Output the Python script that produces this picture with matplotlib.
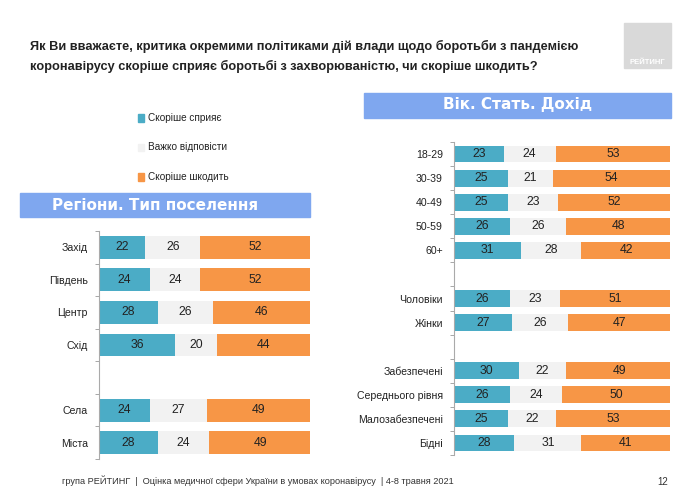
import numpy as np
import matplotlib.pyplot as plt
from matplotlib.patches import Rectangle

plt.rcParams['font.family'] = ['Liberation Sans', 'DejaVu Sans']

series_names = ['Скоріше сприяє', 'Важко відповісти', 'Скоріше шкодить']
colors = ['#4BACC6', '#F2F2F2', '#F79646']

# left panel: regions / settlement type ('' = empty spacer row)
left_cats = ['Захід', 'Південь', 'Центр', 'Схід', '', 'Села', 'Міста']
left_help = [22, 24, 28, 36, None, 24, 28]
left_hard = [26, 24, 26, 20, None, 27, 24]
left_harm = [52, 52, 46, 44, None, 49, 49]

# right panel: age / sex / income
right_cats = ['18-29', '30-39', '40-49', '50-59', '60+', '', 'Чоловіки', 'Жінки', '',
              'Забезпечені', 'Середнього рівня', 'Малозабезпечені', 'Бідні']
right_help = [23, 25, 25, 26, 31, None, 26, 27, None, 30, 26, 25, 28]
right_hard = [24, 21, 23, 26, 28, None, 23, 26, None, 22, 24, 22, 31]
right_harm = [53, 54, 52, 48, 42, None, 51, 47, None, 49, 50, 53, 41]

W, H = 690, 493
fig = plt.figure(figsize=(W / 100, H / 100), dpi=100)


def px(x0, y0, x1, y1):
    return [x0 / W, 1 - y1 / H, (x1 - x0) / W, (y1 - y0) / H]


def stacked(ax, cats, a, b, c):
    n = len(cats)
    y = np.arange(n)
    for i in range(n):
        if a[i] is None:
            continue
        left = 0
        for v, col in zip([a[i], b[i], c[i]], colors):
            ax.barh(y[i], v, left=left, height=0.7, color=col, edgecolor='none')
            ax.text(left + v / 2, y[i], str(v), ha='center', va='center',
                    fontsize=8.8, color='#222222')
            left += v
    ax.set_ylim(n - 0.5, -0.5)
    ax.set_xlim(0, 100)
    ax.set_yticks(y)
    ax.set_yticklabels(cats, fontsize=7.6, color='#222222')
    ax.set_yticks(np.arange(n + 1) - 0.5, minor=True)
    ax.tick_params(axis='y', which='major', length=0, pad=8)
    ax.tick_params(axis='y', which='minor', length=3, color='#999999')
    ax.set_xticks([])
    for s in ['top', 'right', 'bottom']:
        ax.spines[s].set_visible(False)
    ax.spines['left'].set_color('#aaaaaa')
    ax.spines['left'].set_linewidth(0.8)
    ax.patch.set_alpha(0)


ax1 = fig.add_axes(px(99, 231, 310, 459))
stacked(ax1, left_cats, left_help, left_hard, left_harm)
ax2 = fig.add_axes(px(454, 142, 670, 455))
stacked(ax2, right_cats, right_help, right_hard, right_harm)

# title
fig.text(30 / W, 1 - 46 / H, 'Як Ви вважаєте, критика окремими політиками дій влади щодо боротьби з пандемією',
         fontsize=9.2, fontweight='bold', color='#222222', va='center')
fig.text(30 / W, 1 - 66 / H, 'коронавірусу скоріше сприяє боротьбі з захворюваністю, чи скоріше шкодить?',
         fontsize=9.2, fontweight='bold', color='#222222', va='center')

# logo
fig.patches.append(Rectangle((624 / W, 1 - 68 / H), 47 / W, 45 / H, transform=fig.transFigure,
                             color='#D9D9D9', zorder=0))
fig.text(647 / W, 1 - 63 / H, 'РЕЙТИНГ', fontsize=5.5, fontweight='bold', color='white',
         ha='center', va='center')

# banners
fig.patches.append(Rectangle((20 / W, 1 - 217 / H), 290 / W, 24 / H, transform=fig.transFigure,
                             color='#7FA7EF', zorder=0))
fig.text(155 / W, 1 - 205 / H, 'Регіони. Тип поселення', fontsize=11, fontweight='bold',
         color='white', ha='center', va='center', family=['DejaVu Sans'])
fig.patches.append(Rectangle((364 / W, 1 - 118 / H), 307 / W, 25 / H, transform=fig.transFigure,
                             color='#7FA7EF', zorder=0))
fig.text(518 / W, 1 - 105 / H, 'Вік. Стать. Дохід', fontsize=11, fontweight='bold',
         color='white', ha='center', va='center', family=['DejaVu Sans'])

# legend
for k, (name, col) in enumerate(zip(series_names, colors)):
    yy = 118 + k * 29.5
    fig.patches.append(Rectangle((138 / W, 1 - (yy + 3.5) / H), 6 / W, 7 / H,
                                 transform=fig.transFigure, color=col))
    fig.text(148 / W, 1 - yy / H, name, fontsize=7.2, color='#222222', va='center')

# footer
fig.text(62 / W, 1 - 481 / H,
         'група РЕЙТИНГ  |  Оцінка медичної сфери України в умовах коронавірусу  | 4-8 травня 2021',
         fontsize=6.6, color='#333333', va='center')
fig.text(668 / W, 1 - 482 / H, '12', fontsize=7, color='#333333', va='center', ha='right')

fig.savefig('out.png', dpi=100)
